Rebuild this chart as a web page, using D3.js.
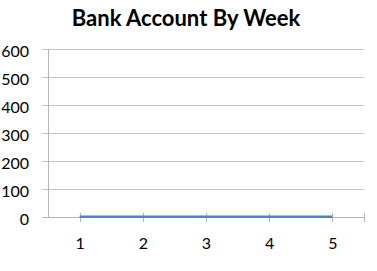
<!DOCTYPE html>
<html>
<head>
<meta charset="utf-8">
<script src="https://cdn.jsdelivr.net/npm/d3@7"></script>
<style>
    body { margin: 0; background: #fff; }
    text { font-family: Lato, 'Open Sans', sans-serif; fill: #000; }
</style>
</head>
<body>
<script>
// chart data
const weeks = [1, 2, 3, 4, 5];
const balance = [1, 1, 1, 1, 1];
const yTicks = [0, 100, 200, 300, 400, 500, 600];
const title = 'Bank Account By Week';

drawChart();

function drawChart()
{
    const width = 377;
    const height = 271;

    const marginTop = 49;
    const marginBottom = 54;
    const marginLeft = 48;
    const marginRight = 13;

    const svg = d3.select('body')
        .append('svg')
        .attr('width', width)
        .attr('height', height);

    // x runs half a step past the first and last week, like the original
    const x = d3.scaleLinear().domain([0.5, 5.5]).range([marginLeft, width - marginRight]);
    const y = d3.scaleLinear().domain([0, 600]).range([height - marginBottom, marginTop]);

    // title
    svg.append('text')
        .attr('x', 186)
        .attr('y', 26)
        .attr('text-anchor', 'middle')
        .style('font-size', '22px')
        .style('font-weight', 'bold')
        .text(title);

    // horizontal grid lines (extend left as the y ticks)
    svg.selectAll('line.grid')
        .data(yTicks.filter(d => d > 0))
        .enter()
        .append('line')
        .attr('class', 'grid')
        .attr('x1', marginLeft - 6)
        .attr('x2', width - marginRight)
        .attr('y1', d => Math.round(y(d)) + 0.5)
        .attr('y2', d => Math.round(y(d)) + 0.5)
        .attr('stroke', '#c6c6c6')
        .attr('stroke-width', 1);

    // y-axis
    const yAxis = d3.axisLeft(y).tickValues(yTicks).tickSize(0).tickPadding(0);
    const gy = svg.append('g')
        .attr('transform', `translate(${marginLeft - 19},0)`)
        .call(yAxis);
    gy.select('.domain').remove();
    gy.selectAll('text')
        .attr('dy', '0.45em')
        .style('font-size', '16px')
        .style('font-family', 'Lato, sans-serif');

    svg.append('line')
        .attr('x1', marginLeft + 0.5)
        .attr('x2', marginLeft + 0.5)
        .attr('y1', Math.round(y(600)))
        .attr('y2', Math.round(y(0)) + 0.5)
        .attr('stroke', '#b5b5b5');

    // zero tick on the left
    svg.append('line')
        .attr('x1', marginLeft - 6)
        .attr('x2', marginLeft)
        .attr('y1', Math.round(y(0)) + 0.5)
        .attr('y2', Math.round(y(0)) + 0.5)
        .attr('stroke', '#b5b5b5');

    // x-axis
    const xAxis = d3.axisBottom(x).tickValues(weeks).tickSize(0).tickPadding(0).tickFormat(d3.format('d'));
    const gx = svg.append('g')
        .attr('transform', `translate(0,${Math.round(y(0))})`)
        .call(xAxis);
    gx.select('.domain').remove();
    gx.selectAll('text')
        .attr('y', 32)
        .attr('dy', 0)
        .style('font-size', '16px')
        .style('font-family', 'Lato, sans-serif');

    svg.append('line')
        .attr('x1', marginLeft)
        .attr('x2', x(5.5))
        .attr('y1', Math.round(y(0)) + 0.5)
        .attr('y2', Math.round(y(0)) + 0.5)
        .attr('stroke', '#b5b5b5');

    // x tick marks crossing the axis
    svg.selectAll('line.xtick')
        .data(weeks.concat([5.5]))
        .enter()
        .append('line')
        .attr('class', 'xtick')
        .attr('x1', d => Math.round(x(d)) + 0.5)
        .attr('x2', d => Math.round(x(d)) + 0.5)
        .attr('y1', Math.round(y(0)) - 4)
        .attr('y2', Math.round(y(0)) + 5)
        .attr('stroke', '#b5b5b5');

    // the line
    const lineGenerator = d3.line()
        .x((d, i) => x(weeks[i]))
        .y(d => y(d));

    svg.append('path')
        .datum(balance)
        .attr('d', lineGenerator)
        .attr('fill', 'none')
        .attr('stroke', '#4f81bd')
        .attr('stroke-width', 2.5);
}
</script>
</body>
</html>
